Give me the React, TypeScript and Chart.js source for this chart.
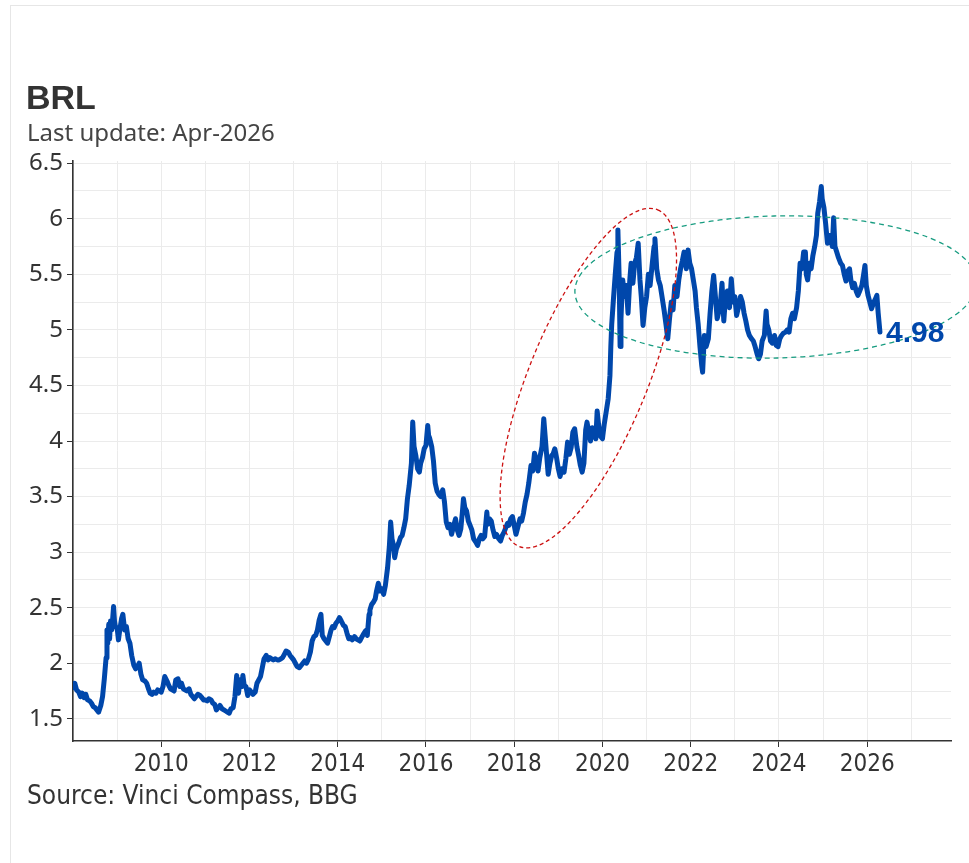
import React, { useEffect, useRef } from "react";
import { Chart, registerables } from "chart.js";

Chart.register(...registerables);

// ---- data (decimal year, USD/BRL) ----
const dates: number[] = [
  2008.00, 2008.04, 2008.08, 2008.13, 2008.17, 2008.21, 2008.25, 2008.29, 2008.33, 2008.38,
  2008.42, 2008.46, 2008.50, 2008.54, 2008.58, 2008.63, 2008.67, 2008.71, 2008.75, 2008.77,
  2008.79, 2008.81, 2008.83, 2008.85, 2008.88, 2008.92, 2008.94, 2008.96, 2009.00, 2009.03,
  2009.06, 2009.10, 2009.13, 2009.17, 2009.21, 2009.25, 2009.29, 2009.33, 2009.38, 2009.42,
  2009.46, 2009.50, 2009.54, 2009.58, 2009.63, 2009.67, 2009.71, 2009.75, 2009.79, 2009.83,
  2009.88, 2009.92, 2009.96, 2010.00, 2010.04, 2010.08, 2010.13, 2010.17, 2010.21, 2010.25,
  2010.29, 2010.33, 2010.38, 2010.42, 2010.46, 2010.50, 2010.54, 2010.58, 2010.63, 2010.67,
  2010.71, 2010.75, 2010.79, 2010.83, 2010.88, 2010.92, 2010.96, 2011.00, 2011.04, 2011.08,
  2011.13, 2011.17, 2011.21, 2011.25, 2011.29, 2011.33, 2011.38, 2011.42, 2011.46, 2011.50,
  2011.54, 2011.58, 2011.63, 2011.67, 2011.71, 2011.73, 2011.75, 2011.79, 2011.83, 2011.85,
  2011.88, 2011.92, 2011.96, 2012.00, 2012.04, 2012.08, 2012.13, 2012.17, 2012.21, 2012.25,
  2012.29, 2012.33, 2012.38, 2012.42, 2012.46, 2012.50, 2012.54, 2012.58, 2012.63, 2012.67,
  2012.71, 2012.75, 2012.79, 2012.83, 2012.88, 2012.92, 2012.96, 2013.00, 2013.04, 2013.08,
  2013.13, 2013.17, 2013.21, 2013.25, 2013.29, 2013.33, 2013.38, 2013.42, 2013.46, 2013.50,
  2013.54, 2013.58, 2013.62, 2013.65, 2013.69, 2013.73, 2013.77, 2013.81, 2013.85, 2013.88,
  2013.92, 2013.96, 2014.00, 2014.04, 2014.08, 2014.13, 2014.17, 2014.21, 2014.25, 2014.29,
  2014.33, 2014.38, 2014.42, 2014.46, 2014.50, 2014.54, 2014.58, 2014.63, 2014.67, 2014.71,
  2014.73, 2014.77, 2014.81, 2014.85, 2014.88, 2014.92, 2014.96, 2015.00, 2015.04, 2015.08,
  2015.13, 2015.17, 2015.20, 2015.23, 2015.27, 2015.29, 2015.33, 2015.38, 2015.42, 2015.46,
  2015.50, 2015.54, 2015.58, 2015.62, 2015.67, 2015.70, 2015.73, 2015.77, 2015.81, 2015.85,
  2015.88, 2015.92, 2015.96, 2016.00, 2016.04, 2016.06, 2016.08, 2016.13, 2016.17, 2016.21,
  2016.25, 2016.29, 2016.33, 2016.38, 2016.42, 2016.46, 2016.50, 2016.54, 2016.58, 2016.63,
  2016.67, 2016.71, 2016.75, 2016.79, 2016.83, 2016.85, 2016.88, 2016.92, 2016.96, 2017.00,
  2017.04, 2017.08, 2017.13, 2017.17, 2017.21, 2017.25, 2017.29, 2017.33, 2017.38, 2017.40,
  2017.44, 2017.48, 2017.52, 2017.56, 2017.60, 2017.65, 2017.69, 2017.73, 2017.77, 2017.81,
  2017.85, 2017.88, 2017.92, 2017.96, 2018.00, 2018.04, 2018.08, 2018.13, 2018.17, 2018.21,
  2018.25, 2018.29, 2018.33, 2018.38, 2018.42, 2018.46, 2018.50, 2018.54, 2018.58, 2018.63,
  2018.67, 2018.70, 2018.73, 2018.77, 2018.81, 2018.85, 2018.88, 2018.92, 2018.96, 2019.00,
  2019.04, 2019.08, 2019.13, 2019.17, 2019.21, 2019.25, 2019.29, 2019.33, 2019.37, 2019.42,
  2019.46, 2019.50, 2019.54, 2019.58, 2019.62, 2019.65, 2019.69, 2019.73, 2019.77, 2019.81,
  2019.85, 2019.88, 2019.92, 2019.96, 2020.00, 2020.04, 2020.08, 2020.13, 2020.17, 2020.19,
  2020.21, 2020.25, 2020.29, 2020.33, 2020.35, 2020.38, 2020.40, 2020.42, 2020.44, 2020.46,
  2020.50, 2020.54, 2020.58, 2020.62, 2020.65, 2020.69, 2020.73, 2020.77, 2020.81, 2020.85,
  2020.88, 2020.92, 2020.96, 2021.00, 2021.04, 2021.08, 2021.13, 2021.17, 2021.19, 2021.23,
  2021.27, 2021.31, 2021.35, 2021.40, 2021.44, 2021.48, 2021.52, 2021.56, 2021.60, 2021.64,
  2021.69, 2021.73, 2021.77, 2021.81, 2021.85, 2021.90, 2021.94, 2021.98, 2022.02, 2022.06,
  2022.10, 2022.13, 2022.17, 2022.21, 2022.25, 2022.27, 2022.31, 2022.35, 2022.40, 2022.44,
  2022.48, 2022.52, 2022.56, 2022.60, 2022.63, 2022.67, 2022.71, 2022.75, 2022.79, 2022.83,
  2022.88, 2022.92, 2022.96, 2023.00, 2023.04, 2023.08, 2023.13, 2023.17, 2023.21, 2023.25,
  2023.29, 2023.33, 2023.38, 2023.42, 2023.46, 2023.50, 2023.54, 2023.58, 2023.62, 2023.67,
  2023.71, 2023.73, 2023.77, 2023.81, 2023.85, 2023.90, 2023.94, 2023.98, 2024.02, 2024.06,
  2024.10, 2024.15, 2024.19, 2024.23, 2024.27, 2024.31, 2024.35, 2024.40, 2024.44, 2024.48,
  2024.52, 2024.56, 2024.60, 2024.62, 2024.65, 2024.69, 2024.73, 2024.77, 2024.81, 2024.85,
  2024.88, 2024.92, 2024.96, 2024.98, 2025.02, 2025.06, 2025.10, 2025.13, 2025.17, 2025.21,
  2025.24, 2025.27, 2025.31, 2025.35, 2025.40, 2025.44, 2025.48, 2025.52, 2025.56, 2025.60,
  2025.63, 2025.67, 2025.71, 2025.75, 2025.79, 2025.83, 2025.88, 2025.92, 2025.95, 2025.98,
  2026.02, 2026.06, 2026.10, 2026.15, 2026.19, 2026.22, 2026.25, 2026.29,
];

const usdbrl: number[] = [
  1.78, 1.82, 1.76, 1.74, 1.70, 1.73, 1.69, 1.72, 1.67, 1.66,
  1.64, 1.61, 1.60, 1.58, 1.56, 1.62, 1.70, 1.86, 2.05, 2.30,
  2.18, 2.35, 2.22, 2.38, 2.30, 2.51, 2.38, 2.33, 2.32, 2.21,
  2.30, 2.40, 2.44, 2.30, 2.33, 2.22, 2.18, 2.07, 1.98, 1.95,
  1.97, 2.00, 1.90, 1.85, 1.84, 1.82, 1.77, 1.73, 1.72, 1.74,
  1.73, 1.76, 1.75, 1.74, 1.79, 1.88, 1.84, 1.80, 1.77, 1.76,
  1.75, 1.85, 1.86, 1.79, 1.82, 1.77, 1.76, 1.75, 1.77, 1.72,
  1.70, 1.68, 1.70, 1.72, 1.71, 1.69, 1.67, 1.67, 1.66, 1.68,
  1.67, 1.64, 1.63, 1.58, 1.60, 1.62, 1.59, 1.58, 1.57, 1.56,
  1.55, 1.59, 1.60, 1.70, 1.89, 1.78, 1.73, 1.85, 1.79, 1.89,
  1.80, 1.79, 1.71, 1.76, 1.74, 1.72, 1.74, 1.82, 1.85, 1.88,
  1.96, 2.04, 2.07, 2.03, 2.05, 2.04, 2.03, 2.04, 2.03, 2.03,
  2.04, 2.05, 2.08, 2.11, 2.10, 2.07, 2.05, 2.03, 2.00, 1.97,
  1.96, 1.98, 2.00, 2.02, 2.00, 2.03, 2.10, 2.20, 2.24, 2.25,
  2.30, 2.39, 2.44, 2.25, 2.22, 2.20, 2.18, 2.24, 2.30, 2.33,
  2.32, 2.36, 2.38, 2.41, 2.38, 2.34, 2.33, 2.27, 2.22, 2.23,
  2.21, 2.24, 2.22, 2.21, 2.20, 2.23, 2.26, 2.29, 2.25, 2.44,
  2.48, 2.53, 2.55, 2.58, 2.65, 2.72, 2.65, 2.67, 2.62, 2.70,
  2.86, 3.05, 3.27, 3.12, 3.05, 2.95, 3.03, 3.08, 3.13, 3.15,
  3.22, 3.30, 3.48, 3.60, 3.80, 4.17, 3.95, 3.87, 3.75, 3.72,
  3.80, 3.85, 3.93, 3.96, 4.14, 4.05, 4.03, 3.95, 3.82, 3.62,
  3.55, 3.52, 3.50, 3.56, 3.45, 3.27, 3.22, 3.25, 3.16, 3.24,
  3.30, 3.20, 3.15, 3.21, 3.38, 3.48, 3.40, 3.37, 3.28, 3.24,
  3.20, 3.12, 3.09, 3.06, 3.12, 3.15, 3.12, 3.14, 3.36, 3.25,
  3.30, 3.28, 3.20, 3.14, 3.16, 3.12, 3.10, 3.15, 3.18, 3.22,
  3.26, 3.24, 3.30, 3.32, 3.24, 3.16, 3.22, 3.30, 3.28, 3.35,
  3.45, 3.52, 3.62, 3.78, 3.73, 3.89, 3.83, 3.73, 3.85, 3.95,
  4.20, 4.05, 3.90, 3.70, 3.80, 3.87, 3.88, 3.93, 3.85, 3.75,
  3.68, 3.75, 3.72, 3.84, 3.99, 3.88, 3.94, 4.08, 4.11, 3.95,
  3.87, 3.78, 3.72, 3.80, 4.10, 4.17, 4.08, 4.00, 4.12, 4.08,
  4.02, 4.27, 4.12, 4.04, 4.02, 4.15, 4.25, 4.38, 4.59, 4.85,
  5.05, 5.28, 5.50, 5.70, 5.90, 5.45, 4.85, 5.10, 5.30, 5.45,
  5.30, 5.40, 5.15, 5.45, 5.60, 5.42, 5.60, 5.65, 5.78, 5.45,
  5.30, 5.04, 5.20, 5.30, 5.50, 5.40, 5.60, 5.75, 5.82, 5.55,
  5.45, 5.40, 5.30, 5.17, 5.05, 4.92, 5.10, 5.25, 5.18, 5.40,
  5.30, 5.45, 5.55, 5.62, 5.70, 5.55, 5.72, 5.60, 5.55, 5.45,
  5.35, 5.20, 5.05, 4.85, 4.68, 4.62, 4.95, 4.85, 4.92, 5.15,
  5.35, 5.49, 5.30, 5.10, 5.15, 5.22, 5.42, 5.08, 5.30, 5.35,
  5.20, 5.46, 5.25, 5.30, 5.13, 5.20, 5.30, 5.25, 5.15, 5.08,
  5.00, 4.95, 4.92, 4.90, 4.85, 4.79, 4.74, 4.78, 4.90, 4.95,
  5.17, 5.05, 5.00, 4.90, 4.88, 4.95, 4.86, 4.85, 4.92, 4.95,
  4.97, 4.98, 5.00, 4.98, 5.10, 5.15, 5.10, 5.20, 5.35, 5.60,
  5.55, 5.70, 5.70, 5.50, 5.45, 5.60, 5.55, 5.67, 5.75, 5.85,
  6.05, 6.15, 6.29, 6.18, 6.10, 5.95, 5.78, 5.85, 5.85, 5.75,
  6.01, 5.75, 5.70, 5.65, 5.60, 5.58, 5.50, 5.44, 5.53, 5.55,
  5.45, 5.38, 5.42, 5.35, 5.31, 5.35, 5.40, 5.50, 5.58, 5.40,
  5.31, 5.25, 5.19, 5.25, 5.28, 5.31, 5.15, 4.98,
];

const titleText = "BRL";
const subtitleText = "Last update: Apr-2026";
const sourceText = "Source: Vinci Compass, BBG";
const lastLabel = "4.98";

const xMin = 2008;
const xMax = 2027.9;
const yMin = 1.3;
const yMax = 6.52;

// annotation ellipses: center in data units, radii in px
const redEllipse = { cx: 2019.68, cy: 4.566, rx: 182, ry: 59, rot: -1.18 };
const greenEllipse = { cx: 2023.93, cy: 5.386, rx: 201, ry: 71, rot: -0.025 };

const LINE_COLOR = "#0047ab";

const annotationPlugin = {
  id: "annots",
  afterDatasetsDraw(chart: any) {
    const { ctx } = chart;
    const xs = chart.scales.x;
    const ys = chart.scales.y;
    const drawEl = (e: any, color: string, dash: number[]) => {
      ctx.save();
      ctx.strokeStyle = color;
      ctx.lineWidth = 1.3;
      ctx.setLineDash(dash);
      ctx.beginPath();
      ctx.ellipse(xs.getPixelForValue(e.cx), ys.getPixelForValue(e.cy), e.rx, e.ry, e.rot, 0, Math.PI * 2);
      ctx.stroke();
      ctx.restore();
    };
    drawEl(redEllipse, "#cc1111", [4, 3]);
    drawEl(greenEllipse, "#179c80", [5, 4]);
    // last value label
    const n = dates.length - 1;
    const px = xs.getPixelForValue(dates[n]);
    const py = ys.getPixelForValue(usdbrl[n]);
    ctx.save();
    ctx.fillStyle = LINE_COLOR;
    ctx.font = 'bold 30px "Liberation Sans", Arial, sans-serif';
    ctx.textBaseline = "middle";
    ctx.textAlign = "left";
    ctx.fillText(lastLabel, px + 6, py + 2);
    ctx.restore();
  },
};

export default function App() {
  const ref = useRef<HTMLCanvasElement | null>(null);

  useEffect(() => {
    if (!ref.current) return;
    const points = dates.map((d, i) => ({ x: d, y: usdbrl[i] }));
    const isMajorY = (v: number) => Math.abs(v * 2 - Math.round(v * 2)) < 1e-6;
    const isMajorX = (v: number) => Math.round(v) % 2 === 0 && v >= 2010 && Math.abs(v - Math.round(v)) < 1e-6;
    const chart = new Chart(ref.current, {
      type: "line",
      data: {
        datasets: [
          {
            data: points,
            borderColor: LINE_COLOR,
            borderWidth: 5,
            pointRadius: 0,
            tension: 0,
            borderJoinStyle: "round",
            borderCapStyle: "round",
          } as any,
        ],
      },
      options: {
        responsive: false,
        animation: false,
        devicePixelRatio: 1,
        layout: { padding: { left: 27, right: 18, top: 161, bottom: 82 } },
        plugins: { legend: { display: false }, tooltip: { enabled: false } },
        scales: {
          x: {
            type: "linear",
            min: xMin,
            max: xMax,
            grid: {
              color: "#ebebeb",
              lineWidth: 1,
              tickLength: 6,
              tickColor: (c: any) => (isMajorX(c.tick.value) ? "#333" : "rgba(0,0,0,0)"),
            },
            border: { display: true, color: "#333", width: 1.6 },
            ticks: {
              stepSize: 1,
              includeBounds: false,
              autoSkip: false,
              maxRotation: 0,
              padding: 3,
              color: "#333",
              font: { family: '"Liberation Sans Narrow", "DejaVu Sans Condensed", sans-serif', size: 24 },
              callback: (v: any) => (isMajorX(Number(v)) ? String(Math.round(Number(v))) : ""),
            },
            afterFit: (s: any) => {
              s.height = 40;
            },
          },
          y: {
            type: "linear",
            min: yMin,
            max: yMax,
            grid: {
              color: "#ebebeb",
              lineWidth: 1,
              tickLength: 6,
              tickColor: (c: any) => (isMajorY(c.tick.value) ? "#333" : "rgba(0,0,0,0)"),
            },
            border: { display: true, color: "#333", width: 1.6 },
            ticks: {
              stepSize: 0.25,
              includeBounds: false,
              autoSkip: false,
              padding: 4,
              color: "#333",
              font: { family: '"Noto Sans", sans-serif', size: 24 },
              callback: (v: any) => (isMajorY(Number(v)) ? String(Number(v)) : ""),
            },
            afterFit: (s: any) => {
              s.width = 46;
            },
          },
        },
      } as any,
      plugins: [annotationPlugin],
    });
    return () => chart.destroy();
  }, []);

  return (
    <div style={{ position: "fixed", left: 0, top: 0, width: 969, height: 863, background: "#fff", overflow: "hidden" }}>
      <div
        style={{
          position: "absolute",
          left: 10,
          top: 5,
          width: 1000,
          height: 900,
          border: "1px solid #e6e6e6",
          boxSizing: "border-box",
        }}
      />
      <canvas ref={ref} width={969} height={863} style={{ position: "absolute", left: 0, top: 0, width: 969, height: 863 }} />
      <div
        style={{
          position: "absolute",
          left: 26,
          top: 78,
          fontFamily: '"Liberation Sans", Arial, sans-serif',
          fontWeight: 700,
          fontSize: 34,
          lineHeight: "38px",
          color: "#333",
        }}
      >
        {titleText}
      </div>
      <div
        style={{
          position: "absolute",
          left: 27,
          top: 118,
          fontFamily: '"Noto Sans", sans-serif',
          fontSize: 24,
          lineHeight: "28px",
          color: "#444",
        }}
      >
        {subtitleText}
      </div>
      <div
        style={{
          position: "absolute",
          left: 27,
          top: 780,
          fontFamily: '"Liberation Sans Narrow", "DejaVu Sans Condensed", sans-serif',
          fontSize: 26,
          lineHeight: "30px",
          color: "#333",
        }}
      >
        {sourceText}
      </div>
    </div>
  );
}
